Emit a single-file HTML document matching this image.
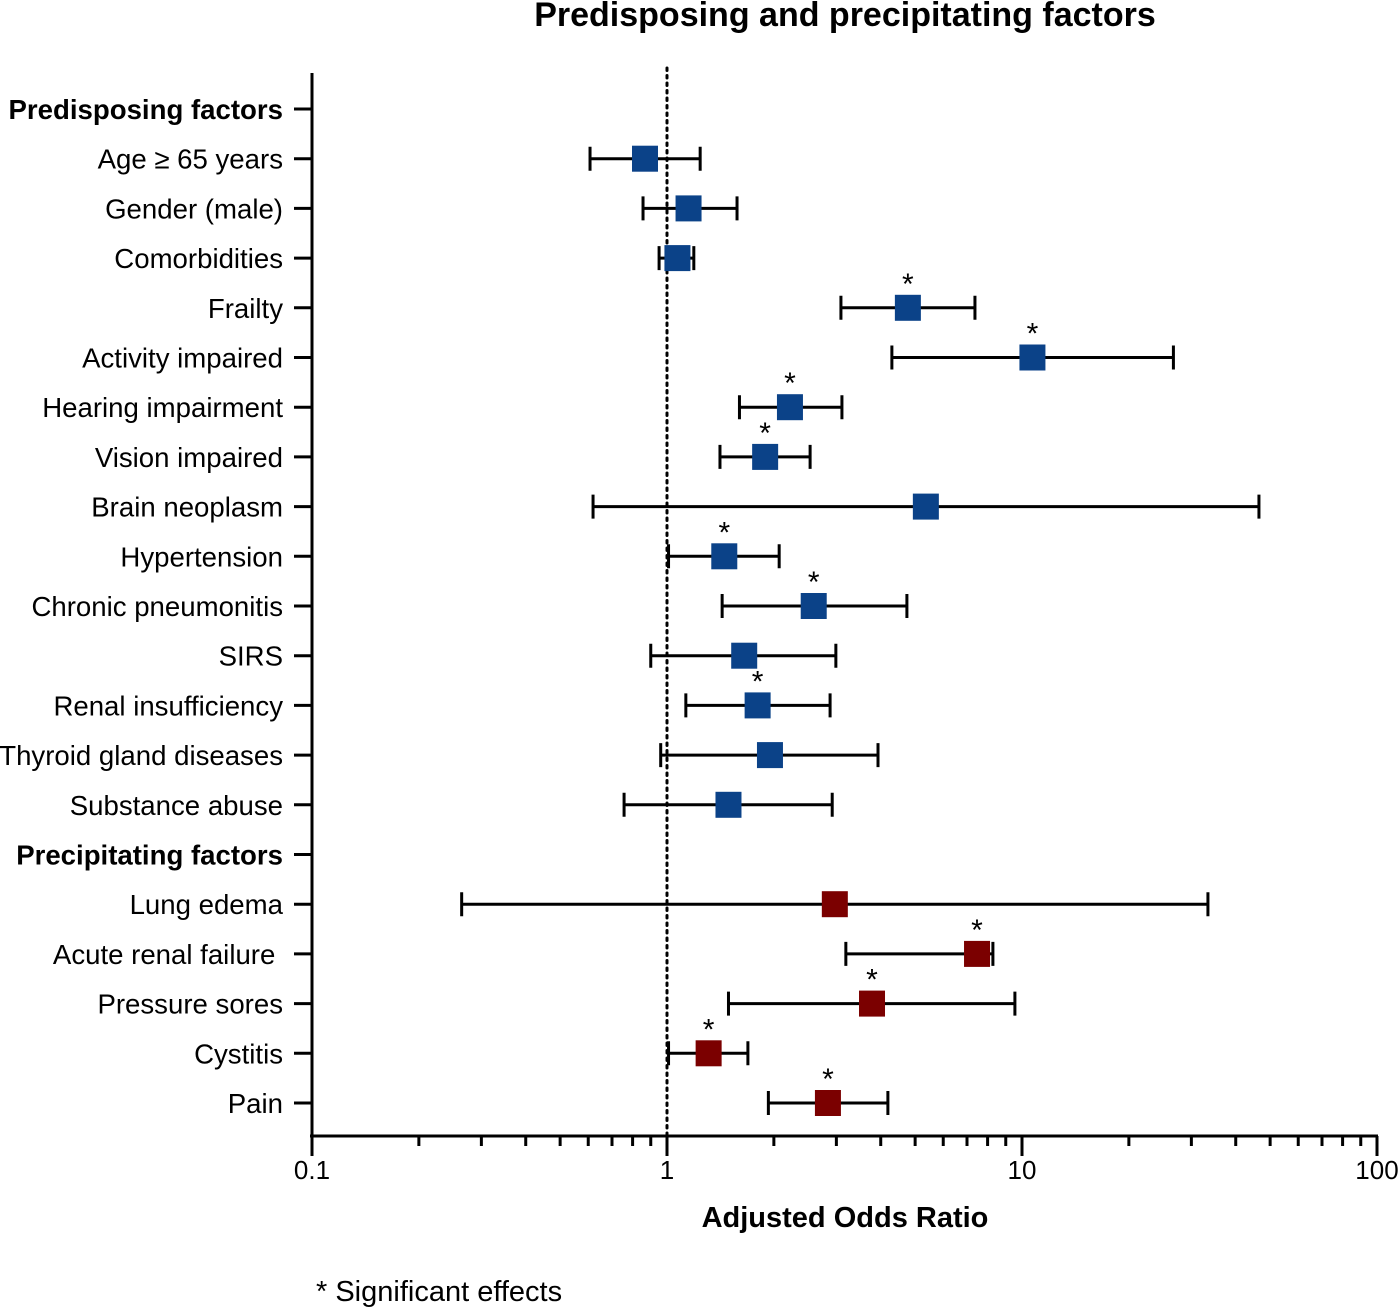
<!DOCTYPE html>
<html><head><meta charset="utf-8"><style>
body{margin:0;background:#fff;}
svg text{font-family:"Liberation Sans",Arial,sans-serif;fill:#000;}
</style></head><body>
<svg id="chart" width="1398" height="1307" xmlns="http://www.w3.org/2000/svg">
<text x="845" y="26" font-size="34" font-weight="bold" text-anchor="middle">Predisposing and precipitating factors</text>
<text x="845" y="1227" font-size="29" font-weight="bold" text-anchor="middle">Adjusted Odds Ratio</text>
<text x="316" y="1301" font-size="29">* Significant effects</text>
<g id="plot"></g>
</svg>
<script>
const labels=["Predisposing factors","Age ≥ 65 years","Gender (male)","Comorbidities","Frailty","Activity impaired","Hearing impairment","Vision impaired","Brain neoplasm","Hypertension","Chronic pneumonitis","SIRS","Renal insufficiency","Thyroid gland diseases","Substance abuse","Precipitating factors","Lung edema","Acute renal failure\u00a0","Pressure sores","Cystitis","Pain"];
const headers=[true,false,false,false,false,false,false,false,false,false,false,false,false,false,false,true,false,false,false,false,false];
const orValues=[null,0.867,1.15,1.07,4.77,10.7,2.22,1.89,5.36,1.45,2.59,1.65,1.80,1.95,1.49,null,2.97,7.47,3.78,1.31,2.84];
const lowCI=[null,0.607,0.856,0.95,3.09,4.30,1.60,1.41,0.619,1.01,1.43,0.90,1.13,0.96,0.757,null,0.264,3.19,1.49,1.01,1.93];
const highCI=[null,1.24,1.575,1.19,7.37,26.7,3.11,2.53,46.5,2.07,4.74,2.99,2.88,3.93,2.92,null,33.4,8.28,9.55,1.69,4.19];
const significant=[false,false,false,false,true,true,true,true,false,true,true,false,true,false,false,false,false,true,true,true,true];
const group=["","pre","pre","pre","pre","pre","pre","pre","pre","pre","pre","pre","pre","pre","pre","","post","post","post","post","post"];
const tickLabels=["0.1","1","10","100"];
const tickValues=[0.1,1,10,100];

const NS="http://www.w3.org/2000/svg";
const g=document.getElementById('plot');
const x=v=>312+(Math.log10(v)+1)*355;
const y=i=>109+i*49.7;
function el(t,a,p){const e=document.createElementNS(NS,t);for(const k in a)e.setAttribute(k,a[k]);(p||g).appendChild(e);return e;}
let ax=el('line',{x1:312,y1:73,x2:312,y2:1137,stroke:'#000','stroke-width':3});


let xa=el('line',{x1:310,y1:1136,x2:1378,y2:1136,stroke:'#000','stroke-width':3});


let rl=el('line',{x1:x(1),y1:68,x2:x(1),y2:1136,stroke:'#000','stroke-width':3,'stroke-dasharray':'2.5,5','stroke-linecap':'round'});


for(let d=0;d<3;d++){for(let m=1;m<10;m++){const v=tickValues[d]*m;const big=m==1;
 const t=el('line',{x1:x(v),y1:1136,x2:x(v),y2:1136+(big?20:10),stroke:'#000','stroke-width':3});
 
 }}
{const t=el('line',{x1:x(100),y1:1136,x2:x(100),y2:1156,stroke:'#000','stroke-width':3});
 
 }
tickLabels.forEach((l,i)=>{const t=el('text',{x:x(tickValues[i]),y:1179,'font-size':26,'text-anchor':'middle'});t.textContent=l;
 
 });
labels.forEach((l,i)=>{const yy=y(i);
 const tk=el('line',{x1:294,y1:yy,x2:312,y2:yy,stroke:'#000','stroke-width':3});
 
 
 const t=el('text',{x:283,y:yy+10,'font-size':27.6,'text-anchor':'end','font-weight':headers[i]?'bold':'normal'});t.textContent=l;
 
 
 if(orValues[i]==null)return;
 const lo=x(lowCI[i]),hi=x(highCI[i]),c=x(orValues[i]);
 const ci=el('path',{d:`M${lo},${yy}H${hi}M${lo},${yy-12}V${yy+12}M${hi},${yy-12}V${yy+12}`,stroke:'#000','stroke-width':3,fill:'none'});
 
 
 const s=el('rect',{x:c-13,y:yy-13,width:26,height:26,fill:group[i]=='pre'?'#0b4288':'#7b0000'});
 
 
 if(significant[i]){const a=el('text',{x:c,y:yy-14,'font-size':30,'text-anchor':'middle'});a.textContent='*';
  
  }
});
</script>
</body></html>
